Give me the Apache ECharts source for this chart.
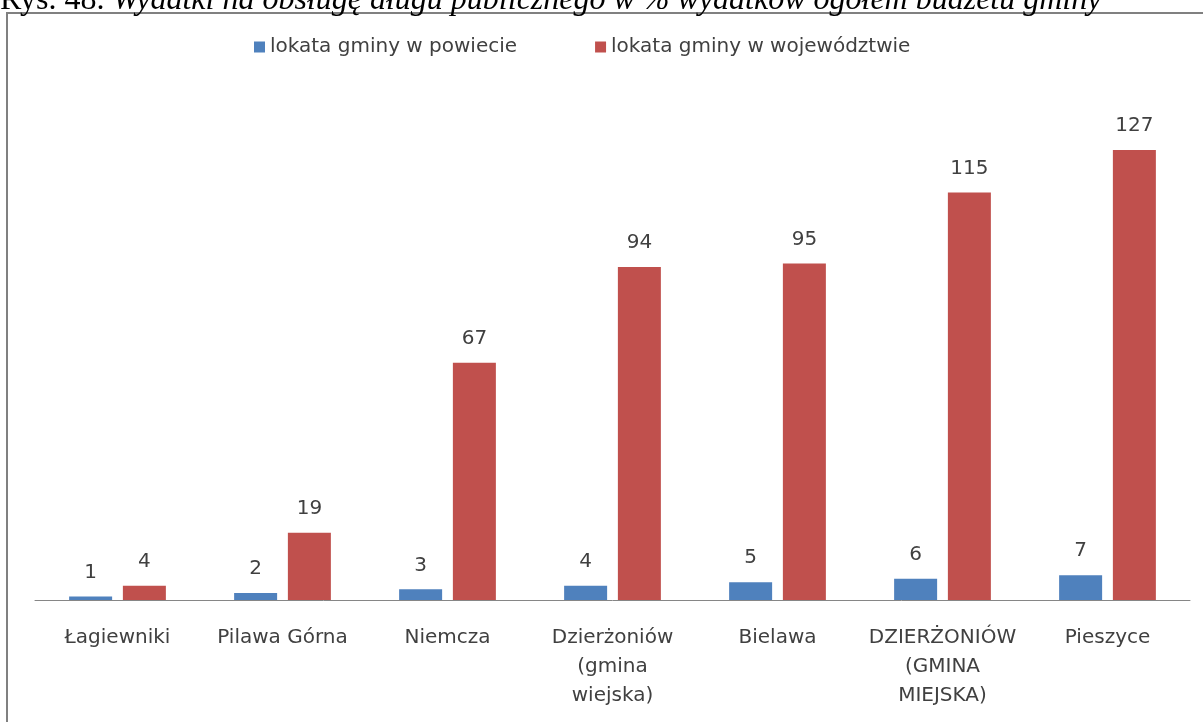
<!DOCTYPE html>
<html>
<head>
<meta charset="utf-8">
<script src="https://cdn.jsdelivr.net/npm/echarts@6/dist/echarts.min.js"></script>
<style>
html,body{margin:0;padding:0;background:#fff;}
#chart{width:1203px;height:722px;}
</style>
</head>
<body>
<div id="chart"></div>
<script>
const categories = ['Łagiewniki', 'Pilawa Górna', 'Niemcza', 'Dzierżoniów\n(gmina\nwiejska)', 'Bielawa', 'DZIERŻONIÓW\n(GMINA\nMIEJSKA)', 'Pieszyce'];
const powiatRank = [1, 2, 3, 4, 5, 6, 7];
const wojRank = [4, 19, 67, 94, 95, 115, 127];
const seriesNames = ['lokata gminy w powiecie', 'lokata gminy w województwie'];
const captionLead = 'Rys. 48. ';
const captionText = 'Wydatki na obsługę długu publicznego w % wydatków ogółem budżetu gminy';

const chart = echarts.init(document.getElementById('chart'));
const FONT = '"DejaVu Sans", sans-serif';
const labelStyle = {show: true, position: 'top', distance: 14, color: '#404040', fontSize: 20, fontFamily: FONT};

chart.setOption({
  animation: false,
  backgroundColor: '#fff',
  graphic: [
    {type: 'rect', shape: {x: 7, y: 13, width: 1300, height: 800}, style: {fill: 'none', stroke: '#808080', lineWidth: 2}, z: 0},
    {type: 'text', left: 0, top: -15, style: {
      text: '{a|' + captionLead + '}{b|' + captionText + '}',
      rich: {
        a: {fontFamily: '"Liberation Serif", serif', fontSize: 32, fill: '#000'},
        b: {fontFamily: '"Liberation Serif", serif', fontSize: 32, fontStyle: 'italic', fill: '#000'}
      }
    }}
  ],
  legend: {
    top: 32, left: 249,
    itemWidth: 11, itemHeight: 11, itemGap: 78,
    icon: 'rect',
    textStyle: {color: '#404040', fontSize: 20, fontFamily: FONT},
    data: seriesNames
  },
  grid: {left: 35, right: 13, top: 104, bottom: 122},
  xAxis: {
    type: 'category', data: categories,
    axisLine: {lineStyle: {color: '#868686', width: 1}},
    axisTick: {show: false},
    axisLabel: {color: '#404040', fontSize: 20, fontFamily: FONT, margin: 23, lineHeight: 29, interval: 0}
  },
  yAxis: {type: 'value', min: 0, max: 140, show: false, splitLine: {show: false}},
  series: [
    {name: seriesNames[0], type: 'bar', data: powiatRank, barWidth: 43, barGap: '25%', itemStyle: {color: '#4F81BD'}, label: labelStyle},
    {name: seriesNames[1], type: 'bar', data: wojRank, barWidth: 43, barGap: '25%', itemStyle: {color: '#C0504D'}, label: labelStyle}
  ]
});
</script>
</body>
</html>
